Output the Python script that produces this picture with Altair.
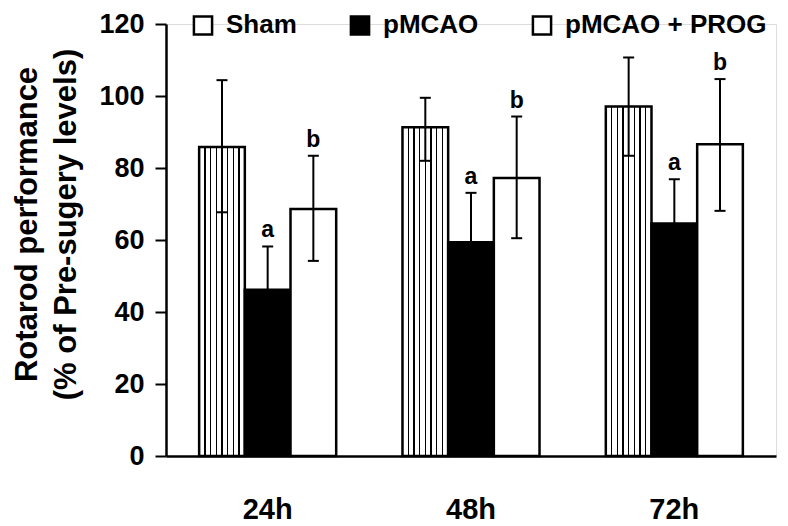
import altair as alt
import pandas as pd

times = ["24h", "48h", "72h"]
groups = ["Sham", "pMCAO", "pMCAO + PROG"]

sham_mean = [85.8, 91.3, 97.1]
sham_lo = [67.7, 82.0, 83.4]
sham_hi = [104.4, 99.5, 110.7]

pmcao_mean = [46.2, 59.4, 64.6]
pmcao_lo = [34.2, 45.7, 52.3]
pmcao_hi = [58.2, 73.1, 76.9]

prog_mean = [68.6, 77.2, 86.6]
prog_lo = [54.2, 60.5, 68.1]
prog_hi = [83.4, 94.3, 104.7]

letters = {"Sham": "", "pMCAO": "a", "pMCAO + PROG": "b"}

rows = []
for g, m, lo, hi in [("Sham", sham_mean, sham_lo, sham_hi),
                     ("pMCAO", pmcao_mean, pmcao_lo, pmcao_hi),
                     ("pMCAO + PROG", prog_mean, prog_lo, prog_hi)]:
    for i, t in enumerate(times):
        rows.append({"time": t, "group": g, "mean": m[i], "lo": lo[i], "hi": hi[i],
                     "letter": letters[g]})
df = pd.DataFrame(rows)

FONT = "Liberation Sans"

# vertical stripe pattern for Sham bars (hard-stop linear gradient)
stops = [{"offset": 0, "color": "white"}]
w = 0.015
for k in range(1, 8):
    c = k / 8
    stops += [{"offset": c - w, "color": "white"}, {"offset": c - w, "color": "black"},
              {"offset": c + w, "color": "black"}, {"offset": c + w, "color": "white"}]
stops.append({"offset": 1, "color": "white"})
stripes = {"gradient": "linear", "x1": 0, "x2": 1, "y1": 0, "y2": 0, "stops": stops}

xenc = alt.X("time:N", sort=times,
             scale=alt.Scale(paddingInner=0.326, paddingOuter=0.163),
             axis=alt.Axis(title=None, labelAngle=0, ticks=False, tickSize=0,
                           labelFontSize=29, labelFont=FONT, labelFontWeight="bold",
                           labelColor="black", labelPadding=39,
                           domainColor="black", domainWidth=2.5))
xoff = alt.XOffset("group:N", sort=groups, scale=alt.Scale(paddingInner=0, paddingOuter=0))

yscale = alt.Scale(domain=[0, 120], nice=False)

bars = alt.Chart(df).mark_bar(stroke="black", strokeWidth=2.5, strokeOpacity=1,
                              opacity=1).encode(
    x=xenc,
    xOffset=xoff,
    y=alt.Y("mean:Q", scale=yscale,
            axis=alt.Axis(title=["Rotarod performance", "(% of Pre-sugery levels)"],
                          values=[0, 20, 40, 60, 80, 100, 120], grid=False,
                          tickSize=11, tickWidth=2, tickColor="black",
                          domainColor="black", domainWidth=2.5,
                          labelFontSize=27, labelFont=FONT, labelFontWeight="bold",
                          labelColor="black", labelPadding=11,
                          titleFontSize=31, titleFont=FONT, titleFontWeight="bold",
                          titleColor="black", titleLineHeight=39, titlePadding=16,
                          titleY=200)),
    fill=alt.condition(
        alt.datum.group == "Sham",
        alt.value(stripes),
        alt.Fill("group:N", sort=groups,
                 scale=alt.Scale(domain=groups, range=["white", "black", "white"]),
                 legend=alt.Legend(title=None, orient="none", legendX=24, legendY=-12,
                                   direction="horizontal", columns=3, padding=0,
                                   symbolType="square", symbolSize=330,
                                   symbolStrokeColor="black", symbolStrokeWidth=2.5,
                                   symbolOpacity=1, labelLimit=0,
                                   labelFontSize=26, labelFont=FONT,
                                   labelFontWeight="bold", labelColor="black",
                                   labelOffset=10, columnPadding=48)),
    ),
)

err = alt.Chart(df).mark_rule(color="black", strokeWidth=2).encode(
    x=alt.X("time:N", sort=times), xOffset=alt.XOffset("group:N", sort=groups),
    y=alt.Y("lo:Q", scale=yscale), y2="hi:Q")

cap_hi = alt.Chart(df).mark_tick(color="black", thickness=2, size=11, opacity=1).encode(
    x=alt.X("time:N", sort=times), xOffset=alt.XOffset("group:N", sort=groups),
    y=alt.Y("hi:Q", scale=yscale))
cap_lo = alt.Chart(df).mark_tick(color="black", thickness=2, size=11, opacity=1).encode(
    x=alt.X("time:N", sort=times), xOffset=alt.XOffset("group:N", sort=groups),
    y=alt.Y("lo:Q", scale=yscale))

txt = alt.Chart(df).mark_text(font=FONT, fontSize=23, fontWeight="bold", color="black",
                              baseline="bottom", dy=-4).encode(
    x=alt.X("time:N", sort=times), xOffset=alt.XOffset("group:N", sort=groups),
    y=alt.Y("hi:Q", scale=yscale), text="letter:N")

chart = alt.layer(bars, err, cap_hi, cap_lo, txt).properties(
    width=610, height=432,
    padding={"left": 3, "top": 2, "right": 2, "bottom": 4},
).configure_view(stroke=None).configure(background="white")

chart.save("out.html", embed_options={"renderer": "svg", "actions": False})
